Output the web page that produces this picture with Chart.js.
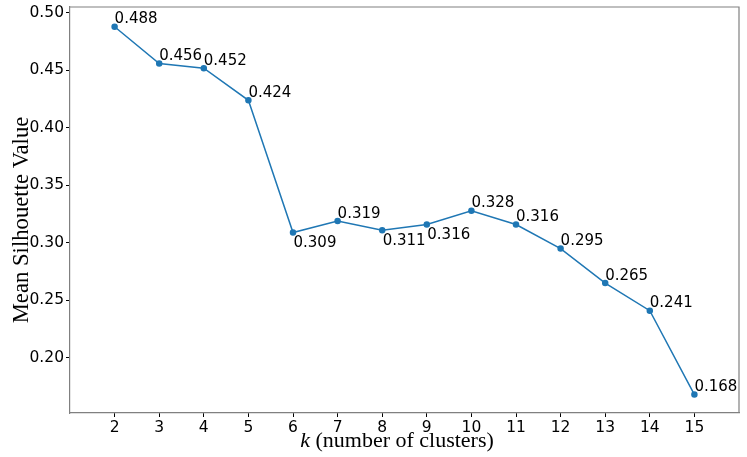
<!DOCTYPE html>
<html>
<head>
<meta charset="utf-8">
<script src="https://cdn.jsdelivr.net/npm/chart.js@4/dist/chart.umd.min.js"></script>
<style>
  html, body { margin: 0; padding: 0; background: #fff; }
  #wrap { width: 747px; height: 457px; }
</style>
</head>
<body>
<div id="wrap"><canvas id="c" width="747" height="457"></canvas></div>
<script>
// k values and mean silhouette per k
const kValues = [2, 3, 4, 5, 6, 7, 8, 9, 10, 11, 12, 13, 14, 15];
const silhouette = [0.488, 0.456, 0.452, 0.424, 0.309, 0.319, 0.311, 0.316, 0.328, 0.316, 0.295, 0.265, 0.241, 0.168];
const xTicks = [2, 3, 4, 5, 6, 7, 8, 9, 10, 11, 12, 13, 14, 15];
const yTicks = [0.20, 0.25, 0.30, 0.35, 0.40, 0.45, 0.50];

const BLUE = '#1f77b4';
const SPINE = '#808080';
const TICK_FONT = { family: 'DejaVu Sans', size: 15.5 };

// labels that sit below their point instead of above
const belowLabels = new Set([4, 6, 7]);

const valueLabels = {
  id: 'valueLabels',
  afterDatasetsDraw(chart) {
    const ctx = chart.ctx;
    const meta = chart.getDatasetMeta(0);
    ctx.save();
    ctx.font = '15px "DejaVu Sans"';
    ctx.fillStyle = '#000';
    ctx.textAlign = 'left';
    ctx.textBaseline = 'alphabetic';
    meta.data.forEach((pt, i) => {
      const txt = silhouette[i].toFixed(3);
      if (belowLabels.has(i)) {
        ctx.fillText(txt, pt.x + 0.5, pt.y + 14.5);
      } else {
        ctx.fillText(txt, pt.x, pt.y - 3.5);
      }
    });
    ctx.restore();
  }
};

// axis titles (serif, italic k) and top/right spines
const frameAndTitles = {
  id: 'frameAndTitles',
  afterDraw(chart) {
    const ctx = chart.ctx;
    const a = chart.chartArea;
    ctx.save();
    ctx.strokeStyle = SPINE;
    ctx.lineWidth = 1.2;
    ctx.beginPath();
    ctx.moveTo(a.left, a.top); ctx.lineTo(a.right, a.top); ctx.lineTo(a.right, a.bottom);
    ctx.stroke();

    ctx.fillStyle = '#000';
    ctx.textBaseline = 'alphabetic';
    const italic = 'italic 22px "Liberation Serif"';
    const normal = '22px "Liberation Serif"';
    const p1 = 'k', p2 = ' (number of clusters)';
    ctx.font = italic; const w1 = ctx.measureText(p1).width;
    ctx.font = normal; const w2 = ctx.measureText(p2).width;
    let x = 397 - (w1 + w2) / 2;
    ctx.textAlign = 'left';
    ctx.font = italic; ctx.fillText(p1, x, 447);
    ctx.font = normal; ctx.fillText(p2, x + w1, 447);

    ctx.translate(28, 220);
    ctx.rotate(-Math.PI / 2);
    ctx.font = '22.7px "Liberation Serif"';
    ctx.textAlign = 'center';
    ctx.fillText('Mean Silhouette Value', 0, 0);
    ctx.restore();
  }
};

new Chart(document.getElementById('c'), {
  type: 'line',
  data: {
    datasets: [{
      data: kValues.map((k, i) => ({ x: k, y: silhouette[i] })),
      borderColor: BLUE,
      backgroundColor: BLUE,
      borderWidth: 1.5,
      pointRadius: 2.5,
      pointHoverRadius: 2.5,
      tension: 0,
      fill: false,
      clip: false,
    }]
  },
  options: {
    responsive: false,
    animation: false,
    devicePixelRatio: 1,
    layout: { autoPadding: false, padding: { top: 7, right: 8, left: 0, bottom: 0 } },
    plugins: {
      legend: { display: false },
      tooltip: { enabled: false },
    },
    scales: {
      x: {
        type: 'linear',
        min: 1,
        max: 16,
        afterBuildTicks: s => { s.ticks = xTicks.map(v => ({ value: v })); },
        afterFit: s => { s.height = 44; s.paddingLeft = 0; s.paddingRight = 0; },
        grid: { drawOnChartArea: false, drawTicks: true, tickLength: 4, color: '#000' },
        border: { color: SPINE, width: 1.2 },
        ticks: { font: TICK_FONT, color: '#000', padding: 2, maxRotation: 0, autoSkip: false },
      },
      y: {
        type: 'linear',
        min: 0.152,
        max: 0.5052,
        afterBuildTicks: s => { s.ticks = yTicks.map(v => ({ value: v })); },
        afterFit: s => { s.width = 70; s.paddingTop = 0; s.paddingBottom = 0; },
        grid: { drawOnChartArea: false, drawTicks: true, tickLength: 4, color: '#000' },
        border: { color: SPINE, width: 1.2 },
        ticks: { font: TICK_FONT, color: '#000', padding: 2, callback: v => v.toFixed(2) },
      },
    },
  },
  plugins: [valueLabels, frameAndTitles],
});
</script>
</body>
</html>
